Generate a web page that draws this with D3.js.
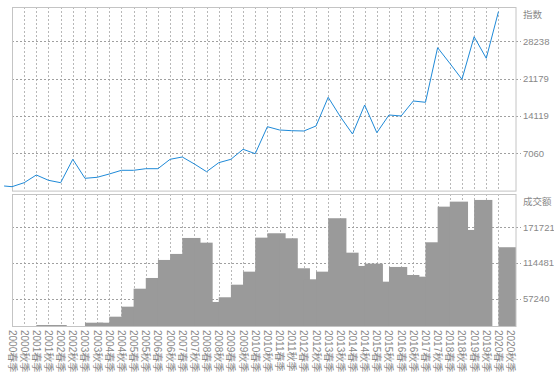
<!DOCTYPE html>
<html>
<head>
<meta charset="utf-8">
<script src="https://cdn.jsdelivr.net/npm/d3@7"></script>
<style>
  body { margin: 0; background: #fff; }
  svg { display: block; font-family: "Liberation Sans", "Noto Sans CJK SC", sans-serif; }
</style>
</head>
<body>
<svg id="chart"></svg>
<script>
// periods on the x axis
const periods = [];
for (let y = 2000; y <= 2020; y++) { periods.push(y + '春季'); periods.push(y + '秋季'); }

// index line (last period has no value yet)
const indexValues = [737, 1494, 2950, 1947, 1494, 5918, 2326, 2515, 3139, 3838,
    3838, 4141, 4141, 5918, 6353, 5029, 3573, 5275, 5918, 7809,
    6977, 12082, 11458, 11325, 11269, 12214, 17640, 13972, 10701, 16185,
    10947, 14294, 14105, 16941, 16695, 27018, 24069, 21044, 29098, 25014,
    33825, null];
const indexLead = 870;   // value before the first label, partly visible at the left edge

// turnover bars
const volumeValues = [5000, 6000, 15700, 15700, 8000, 9000, 19400, 19400, 29000, 45000,
    73700, 90800, 119600, 129200, 154700, 147200, 52500, 60000, 80100, 100900,
    155200, 162200, 154200, 106300, 88700, 100900, 186200, 131200, 110000, 113700,
    84900, 108400, 95600, 92900, 147800, 204700, 212700, 167500, 215400, 9000,
    139900, null];

const indexTicks = [7060, 14119, 21179, 28238];
const volumeTicks = [57240, 114481, 171721];

const W = 554, H = 376;
const left = 12, right = 516;
const top1 = { y0: 7, y1: 190.6 };
const top2 = { y0: 194, y1: 326 };

const svg = d3.select('#chart').attr('width', W).attr('height', H);

const x = d3.scalePoint().domain(periods).range([left, 510.6]);
const step = x.step();

const yIndex = d3.scaleLinear().domain([0, 35298]).range([top1.y1, 3.9]);
const yVol = d3.scaleLinear().domain([0, 228961]).range([334.85, 191.45]);

const textColor = '#888';

// clip paths
const defs = svg.append('defs');
defs.append('clipPath').attr('id', 'clip2')
    .append('rect').attr('x', left).attr('y', top2.y0).attr('width', right - left).attr('height', top2.y1 - top2.y0);

function drawPanel(p, yScale, ticks, title) {
    const g = svg.append('g');
    // vertical dotted grid
    g.selectAll('.vg').data(periods.slice(0, periods.length - 1)).join('line')
        .attr('x1', d => Math.round(x(d)) + 0.5).attr('x2', d => Math.round(x(d)) + 0.5)
        .attr('y1', p.y0).attr('y2', p.y1)
        .attr('stroke', '#b8b8b8').attr('stroke-width', 1).attr('stroke-dasharray', '2,2');
    // horizontal dashed grid + right ticks
    g.selectAll('.hg').data(ticks).join('line')
        .attr('x1', left).attr('x2', right + 5)
        .attr('y1', d => Math.round(yScale(d)) + 0.5).attr('y2', d => Math.round(yScale(d)) + 0.5)
        .attr('stroke', '#a0a0a0').attr('stroke-width', 1).attr('stroke-dasharray', '2,2');
    g.selectAll('.tl').data(ticks).join('text')
        .attr('x', right + 7).attr('y', d => yScale(d)).attr('dy', '0.35em')
        .attr('font-size', 9.5).attr('fill', textColor)
        .text(d => d);
    g.append('text')
        .attr('x', right + 7).attr('y', p.y0 + 8).attr('dy', '0.35em')
        .attr('font-size', 9.5).attr('fill', textColor)
        .text(title);
    return g;
}

drawPanel(top1, yIndex, indexTicks, '指数');
drawPanel(top2, yVol, volumeTicks, '成交额');

// bars, each 1.5 steps wide starting at its period, later ones drawn over earlier ones
svg.append('g').attr('clip-path', 'url(#clip2)')
    .selectAll('rect')
    .data(periods.map((p, i) => ({ p, v: volumeValues[i] })).filter(d => d.v != null))
    .join('rect')
    .attr('x', d => x(d.p))
    .attr('y', d => yVol(d.v))
    .attr('width', step * 1.5)
    .attr('height', d => yVol(0) - yVol(d.v))
    .attr('fill', '#9a9a9a');

// panel borders
[top1, top2].forEach(p => {
    svg.append('rect')
        .attr('x', left + 0.5).attr('y', p.y0 + 0.5)
        .attr('width', right - left - 0.5).attr('height', p.y1 - p.y0)
        .attr('fill', 'none').attr('stroke', '#c4c4c4');
});

// index line
const linePts = [{ x: x(periods[0]) - step * 0.65, v: indexLead }]
    .concat(periods.map((p, i) => ({ x: x(p), v: indexValues[i] })).filter(d => d.v != null));
svg.append('path')
    .datum(linePts)
    .attr('fill', 'none')
    .attr('stroke', '#1f8ad8')
    .attr('stroke-width', 1)
    .attr('d', d3.line().x(d => d.x).y(d => yIndex(d.v)));

// x labels, rotated to read downwards
svg.append('g').selectAll('text').data(periods).join('text')
    .attr('transform', d => `translate(${x(d)}, ${top2.y1 + 4}) rotate(90)`)
    .attr('dy', '0.35em')
    .attr('font-size', 10)
    .attr('fill', textColor)
    .text(d => d);
</script>
</body>
</html>
